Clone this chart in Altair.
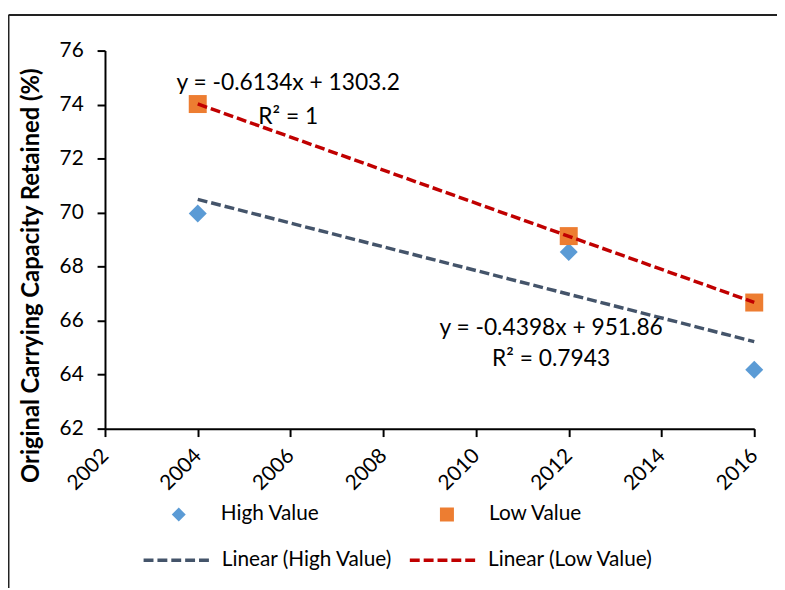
import altair as alt
import pandas as pd

years = [2004, 2012, 2016]
high_value = [69.97, 68.54, 64.18]
low_value = [74.02, 69.13, 66.67]
series_names = ["High Value", "Low Value"]
trend_names = ["Linear (High Value)", "Linear (Low Value)"]
point_colors = ["#5B9BD5", "#ED7D31"]
line_colors = ["#44546A", "#C00000"]
x_ticks = [2002, 2004, 2006, 2008, 2010, 2012, 2014, 2016]
y_ticks = [62, 64, 66, 68, 70, 72, 74, 76]

ann_text = ["y = -0.6134x + 1303.2", "R² = 1", "y = -0.4398x + 951.86", "R² = 0.7943"]
ann_x = [2005.95, 2005.95, 2011.62, 2011.62]
ann_y = [74.53, 73.29, 65.48, 64.31]

rows = []
for name, vals in zip(series_names, [high_value, low_value]):
    for yr, v in zip(years, vals):
        rows.append({"year": yr, "value": v, "series": name})
df = pd.DataFrame(rows)
ann = pd.DataFrame({"year": ann_x, "value": ann_y, "text": ann_text})

FONT = "Lato"
FS = 21

xs = alt.Scale(domain=[2002, 2016], nice=False, zero=False)
ys = alt.Scale(domain=[62, 76], nice=False, zero=False)

x_enc = alt.X("year:Q", scale=xs, axis=alt.Axis(
    values=x_ticks, format="d", title=None, labelAngle=-45, labelAlign="right",
    labelBaseline="middle", labelPadding=16))
y_enc = alt.Y("value:Q", scale=ys, axis=alt.Axis(
    values=y_ticks, format="d", title="Original Carrying Capacity Retained (%)",
    labelPadding=14, titleX=-74, titleY=227, titleAngle=-90,
    titleAlign="center", titleBaseline="middle", titleFont=FONT,
    titleFontSize=24, titleFontWeight="bold", titleColor="black"))

pt_legend = alt.Legend(
    title=None, orient="none", legendX=64, legendY=458, direction="horizontal",
    columns=2, columnPadding=118, symbolSize=200, labelOffset=32,
    labelFont=FONT, labelFontSize=FS, labelColor="black", symbolStrokeWidth=0,
    labelLimit=300)

points = alt.Chart(df).mark_point(filled=True, size=330, opacity=1).encode(
    x=x_enc, y=y_enc,
    color=alt.Color("series:N", scale=alt.Scale(domain=series_names, range=point_colors), legend=pt_legend),
    shape=alt.Shape("series:N", scale=alt.Scale(domain=series_names, range=["diamond", "square"]), legend=pt_legend),
)

lines = alt.Chart(df).transform_calculate(
    trend='"Linear (" + datum.series + ")"'
).transform_regression("year", "value", groupby=["trend"]).mark_line(
    strokeDash=[10, 4], strokeWidth=3.5
).encode(
    x=alt.X("year:Q", scale=xs),
    y=alt.Y("value:Q", scale=ys),
    color=alt.Color("trend:N", scale=alt.Scale(domain=trend_names, range=line_colors),
                    legend=alt.Legend(title=None, orient="none", legendX=37, legendY=478,
                                      direction="horizontal", columns=2, columnPadding=10,
                                      symbolType="stroke", symbolSize=4900,
                                      symbolStrokeWidth=3.5, symbolDash=[10, 4],
                                      labelOffset=7, labelFont=FONT, labelFontSize=FS,
                                      labelColor="black", labelLimit=300)),
)

texts = alt.Chart(ann).mark_text(font=FONT, fontSize=23, color="black",
                                 align="center", baseline="alphabetic").encode(
    x=alt.X("year:Q", scale=xs), y=alt.Y("value:Q", scale=ys), text="text:N")

dummy = pd.DataFrame({"k": [0]})
frame_left = alt.Chart(dummy).mark_rule(color="#222222", strokeWidth=2).encode(
    x=alt.value(-97.5), y=alt.value(-36), y2=alt.value(700))
frame_top = alt.Chart(dummy).mark_rule(color="#222222", strokeWidth=2).encode(
    x=alt.value(-97.5), x2=alt.value(900), y=alt.value(-36))

chart = alt.layer(points, lines, texts, frame_left, frame_top).resolve_scale(
    color="independent", shape="independent"
).properties(
    width=656, height=382, autosize="none",
    padding={"left": 98, "top": 40, "right": 23, "bottom": 158},
).configure(background="white").configure_axis(
    grid=False, domainColor="black", domainWidth=2, tickColor="black",
    tickWidth=2, tickSize=8, labelFont=FONT, labelFontSize=FS, labelColor="black",
).configure_view(stroke=None)

chart.save("out.html", embed_options={"renderer": "svg", "actions": False})
